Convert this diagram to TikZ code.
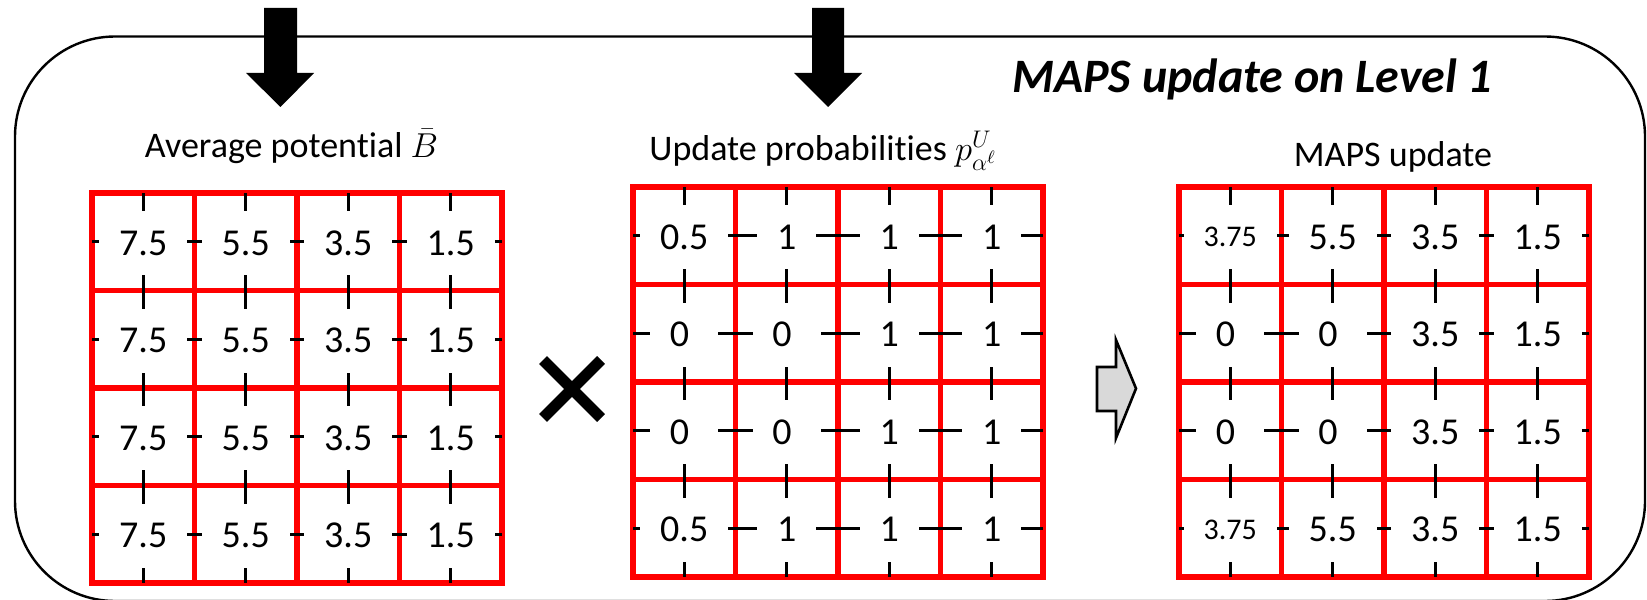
\documentclass[tikz,border=0pt]{standalone}
\usepackage{fontspec}
\setmainfont{Carlito}[RawFeature=-liga]
\definecolor{gridred}{HTML}{FF0000}
\definecolor{blockgray}{HTML}{D9D9D9}
\newcommand{\sm}{\fontsize{15}{18}\selectfont}
% one 4x4 table: name, left, top, rows
\newcommand{\cellgrid}[4]{%
  \draw[redline] (#2,#3) rectangle ++(410,390);
  \foreach \i in {1,2,3} {
    \draw[redline] ({#2+\i*102.5},#3) -- ++(0,390);
    \draw[redline] (#2,{#3+\i*97.5}) -- ++(410,0);
  }
  \foreach \i in {1,...,4} {
    \draw[guide] ({#2+(\i-0.5)*102.5},#3) -- ++(0,390);
    \draw[guide] (#2,{#3+(\i-0.5)*97.5}) -- ++(410,0);
  }
  \foreach \row [count=\r] in {#4} {
    \foreach \v [count=\c] in \row
      \node[cell] (#1-\r-\c) at ({#2+(\c-0.5)*102.5},{#3+(\r-0.5)*97.5+1.5}) {\v};
  }
}

\begin{document}
\begin{tikzpicture}[
  x=0.5pt, y=-0.5pt,
  redline/.style={draw=gridred,line width=2.75pt},
  guide/.style={draw=black,line width=1.35pt},
  cell/.style={fill=white,inner xsep=9.9pt,inner ysep=0pt,minimum height=32pt,font=\fontsize{19}{22}\selectfont},
  head/.style={inner sep=0pt,font=\fontsize{18}{21}\selectfont},
  bigarrow/.style={fill=black}]
\useasboundingbox (0,0) rectangle (1647,599);
% frame of the level
\draw[line width=1.2pt,rounded corners=50pt] (15,36.5) rectangle (1645,601);
\node[head,anchor=base west,font=\fontsize{24}{28}\selectfont\bfseries\itshape] (level) at (1012,93) {MAPS update on Level 1};
% incoming arrows
\fill[bigarrow] (264,8) -- (297,8) -- (297,73) -- (314,73) -- (280.5,107) -- (246,73) -- (264,73) -- cycle;
\fill[bigarrow] (812,8) -- (844,8) -- (844,73) -- (862,73) -- (828,107) -- (794,73) -- (812,73) -- cycle;
% headings
\node[head,anchor=base] (avghead) at (291.5,157) {Average potential $\bar{B}$};
\node[head,anchor=base west] (probhead) at (649,160) {Update probabilities $p^{U}_{\alpha^{\ell}}$};
\node[head,anchor=base] (mapshead) at (1393,166) {MAPS update};
% tables
\cellgrid{avg}{92}{193}{{7.5,5.5,3.5,1.5},{7.5,5.5,3.5,1.5},{7.5,5.5,3.5,1.5},{7.5,5.5,3.5,1.5}}
\cellgrid{prob}{633}{187}{{0.5,1,1,1},{0\hphantom{.},0\hphantom{.},1,1},{0\hphantom{.},0\hphantom{.},1,1},{0.5,1,1,1}}
\cellgrid{maps}{1179}{187}{{\sm 3.75,5.5,3.5,1.5},{0\hphantom{.},0\hphantom{.},3.5,1.5},{0\hphantom{.},0\hphantom{.},3.5,1.5},{\sm 3.75,5.5,3.5,1.5}}
% times sign and result arrow
\draw[line width=5.5pt] (543,360) -- (601,418) (543,418) -- (601,360);
\draw[line width=1.3pt,fill=blockgray] (1097,367) -- (1116,367) -- (1116,340) -- (1136,388.5) -- (1116,438) -- (1116,411) -- (1097,411) -- cycle;
\end{tikzpicture}
\end{document}
